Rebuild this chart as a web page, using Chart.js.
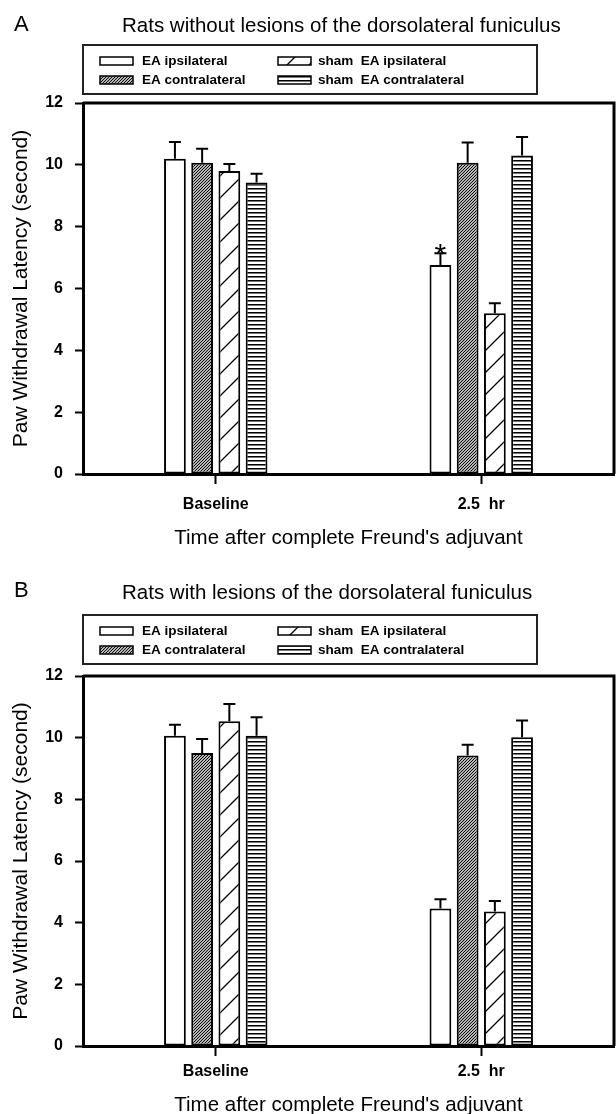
<!DOCTYPE html>
<html>
<head>
<meta charset="utf-8">
<script src="https://cdn.jsdelivr.net/npm/chart.js@4.4.0/dist/chart.umd.min.js"></script>
<style>
  html, body { margin: 0; padding: 0; background: #fff; overflow: hidden; }
  canvas { display: block; }
</style>
</head>
<body>
<canvas id="chartA" width="616" height="573"></canvas>
<canvas id="chartB" width="616" height="573"></canvas>
<script>
// --- data ---
const categories = ['Baseline', '2.5  hr'];
const seriesLabels = ['EA ipsilateral', 'EA contralateral', 'sham  EA ipsilateral', 'sham  EA contralateral'];
const yTickValues = [0, 2, 4, 6, 8, 10, 12];

// panel A: rats without lesions
const aEaIpsi = [10.2, 6.76];
const aEaIpsiErr = [0.54, 0.38];
const aEaContra = [10.07, 10.07];
const aEaContraErr = [0.45, 0.65];
const aShamIpsi = [9.8, 5.2];
const aShamIpsiErr = [0.23, 0.32];
const aShamContra = [9.43, 10.3];
const aShamContraErr = [0.28, 0.6];
const aStars = ['', '*'];

// panel B: rats with lesions
const bEaIpsi = [10.06, 4.46];
const bEaIpsiErr = [0.36, 0.3];
const bEaContra = [9.5, 9.42];
const bEaContraErr = [0.46, 0.35];
const bShamIpsi = [10.53, 4.36];
const bShamIpsiErr = [0.56, 0.34];
const bShamContra = [10.06, 10.01];
const bShamContraErr = [0.6, 0.55];
const bStars = ['', ''];

Chart.defaults.font.family = '"Liberation Sans", Arial, sans-serif';
Chart.defaults.color = '#000';

// --- fill patterns ---
function makePattern(kind) {
    if (kind === 'open') return '#ffffff';
    const c = document.createElement('canvas');
    const g = c.getContext('2d');
    const s = kind === 'sparse' ? 22 : (kind === 'dense' ? 3 : 4);
    c.width = s; c.height = s;
    g.fillStyle = '#fff';
    g.fillRect(0, 0, s, s);
    if (kind === 'horiz') {
        g.fillStyle = '#000';
        g.fillRect(0, 0, s, 1);
        g.fillStyle = '#777';
        g.fillRect(0, 1, s, 1);
    } else {
        g.strokeStyle = '#000';
        g.lineWidth = kind === 'sparse' ? 1.3 : 1.1;
        g.beginPath();
        for (let k = -1; k <= 1; k++) {
            g.moveTo(k * s - 1, s + 1);
            g.lineTo(k * s + s + 1, -1);
        }
        g.stroke();
    }
    return g.createPattern(c, 'repeat');
}
const fills = [makePattern('open'), makePattern('dense'), makePattern('sparse'), makePattern('horiz')];

// --- error bars and asterisks ---
const errorBars = {
    id: 'errorBars',
    afterDatasetsDraw(chart) {
        const ctx = chart.ctx;
        const y = chart.scales.y;
        chart.data.datasets.forEach((ds, i) => {
            chart.getDatasetMeta(i).data.forEach((bar, j) => {
                const top = y.getPixelForValue(ds.data[j] + ds.errors[j]);
                ctx.save();
                ctx.strokeStyle = '#000';
                ctx.lineWidth = 2;
                ctx.beginPath();
                ctx.moveTo(bar.x, bar.y);
                ctx.lineTo(bar.x, top);
                ctx.moveTo(bar.x - 6, top);
                ctx.lineTo(bar.x + 6, top);
                ctx.stroke();
                if (ds.stars && ds.stars[j]) {
                    ctx.fillStyle = '#000';
                    ctx.font = '30px "Liberation Sans"';
                    ctx.textAlign = 'center';
                    ctx.textBaseline = 'alphabetic';
                    ctx.fillText(ds.stars[j], bar.x, top + 11);
                }
                ctx.restore();
            });
        });
    }
};

// --- panel letter, title, boxed legend, frame ---
const panelDecor = {
    id: 'panelDecor',
    afterDraw(chart, args, o) {
        const ctx = chart.ctx;
        const a = chart.chartArea;
        ctx.save();
        ctx.fillStyle = '#000';
        ctx.textAlign = 'left';
        ctx.textBaseline = 'middle';
        ctx.font = '22px "Liberation Sans"';
        ctx.fillText(o.letter, 14, o.letterY);
        ctx.font = '20.5px "Liberation Sans"';
        ctx.fillText(o.title, 122, o.titleY);

        ctx.strokeStyle = '#222';
        ctx.lineWidth = 2;
        ctx.strokeRect(83, o.boxTop, 454, 49);
        const swX = [100, 278], txX = [142, 318];
        chart.data.datasets.forEach((ds, i) => {
            const col = Math.floor(i / 2), row = i % 2;
            const cy = o.boxTop + 16 + row * 19;
            ctx.fillStyle = ds.backgroundColor;
            ctx.fillRect(swX[col], cy - 4, 33, 8);
            ctx.strokeStyle = '#000';
            ctx.lineWidth = 1.5;
            ctx.strokeRect(swX[col], cy - 4, 33, 8);
            ctx.fillStyle = '#000';
            ctx.font = 'bold 13.5px "Liberation Sans"';
            ctx.fillText(ds.label, txX[col], cy);
        });

        ctx.strokeStyle = '#000';
        ctx.lineWidth = 3;
        ctx.beginPath();
        ctx.moveTo(a.left, a.top);
        ctx.lineTo(a.right, a.top);
        ctx.lineTo(a.right, a.bottom);
        ctx.stroke();
        ctx.restore();
    }
};

function buildChart(canvasId, means, errs, stars, decor, axisHeight, labelPad, titlePad) {
    const datasets = seriesLabels.map((label, i) => ({
        label: label,
        data: means[i],
        errors: errs[i],
        stars: i === 0 ? stars : null,
        backgroundColor: fills[i],
        borderColor: '#000',
        borderWidth: 2,
        borderSkipped: false,
        categoryPercentage: 0.41,
        barPercentage: 0.8
    }));
    return new Chart(document.getElementById(canvasId), {
        type: 'bar',
        data: { labels: categories, datasets: datasets },
        plugins: [errorBars, panelDecor],
        options: {
            responsive: false,
            animation: false,
            layout: { padding: { top: 103, right: 2, left: 0, bottom: 0 } },
            plugins: {
                legend: { display: false },
                tooltip: { enabled: false },
                panelDecor: decor
            },
            scales: {
                x: {
                    afterFit: (scale) => { scale.height = axisHeight; },
                    grid: { drawOnChartArea: false, offset: false, tickLength: 10, tickWidth: 2, tickColor: '#000' },
                    border: { display: true, width: 3, color: '#000' },
                    ticks: { padding: labelPad, font: { size: 16, weight: 'bold' } },
                    title: {
                        display: true,
                        text: "Time after complete Freund's adjuvant",
                        font: { size: 20.5 },
                        padding: { top: 0, bottom: titlePad }
                    }
                },
                y: {
                    min: 0,
                    max: 12,
                    afterFit: (scale) => { scale.width = 83; },
                    afterBuildTicks: (scale) => { scale.ticks = yTickValues.map(v => ({ value: v })); },
                    grid: { drawOnChartArea: false, tickLength: 8, tickWidth: 2, tickColor: '#000' },
                    border: { display: true, width: 3, color: '#000' },
                    ticks: { padding: 12, font: { size: 16, weight: 'bold' } },
                    title: {
                        display: true,
                        text: 'Paw Withdrawal Latency (second)',
                        font: { size: 21 },
                        padding: { top: 9, bottom: 0 }
                    }
                }
            }
        }
    });
}

buildChart('chartA',
    [aEaIpsi, aEaContra, aShamIpsi, aShamContra],
    [aEaIpsiErr, aEaContraErr, aShamIpsiErr, aShamContraErr],
    aStars,
    { letter: 'A', title: 'Rats without lesions of the dorsolateral funiculus', letterY: 25, titleY: 26, boxTop: 45 },
    99, 11, 22);

buildChart('chartB',
    [bEaIpsi, bEaContra, bShamIpsi, bShamContra],
    [bEaIpsiErr, bEaContraErr, bShamIpsiErr, bShamContraErr],
    bStars,
    { letter: 'B', title: 'Rats with lesions of the dorsolateral funiculus', letterY: 18, titleY: 20, boxTop: 42 },
    100, 6, 28);
</script>
</body>
</html>
